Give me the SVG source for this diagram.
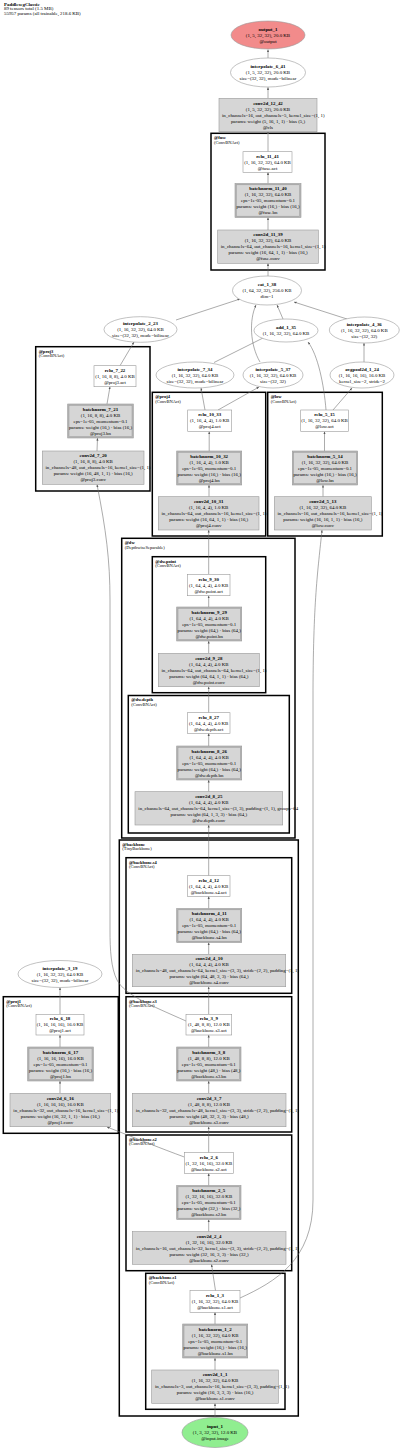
<svg xmlns="http://www.w3.org/2000/svg" width="400" height="1450" viewBox="0 0 400 1450">
<defs>
<marker id="ah" viewBox="0 0 10 10" refX="10" refY="5" markerWidth="2.6" markerHeight="2.6" markerUnits="userSpaceOnUse" orient="auto"><path d="M0,1 L10,5 L0,9 z" fill="#555"/></marker>
</defs>
<style>
text{font-family:"Liberation Serif","Times New Roman",serif;font-size:4.9px;fill:#000}
.t{text-anchor:middle}
.s{text-anchor:start}
.b{font-weight:bold}
.cl{fill:#fff;stroke:#000;stroke-width:1.5}
.ct{font-size:4.5px}
.g{fill:#d6d6d6;stroke:#999;stroke-width:0.6}
.w{fill:#fff;stroke:#999;stroke-width:0.6}
.bo{fill:#b5b5b5;stroke:#999;stroke-width:0.6}
.bi{fill:#d6d6d6;stroke:#999;stroke-width:0.5}
.el{fill:#fff;stroke:#999;stroke-width:0.6}
.e{fill:none;stroke:#666;stroke-width:0.55;marker-end:url(#ah)}
</style>
<rect x="0" y="0" width="400" height="1450" fill="#fff"/>
<g id="title">
<text class="s" x="4" y="5.5"><tspan class="b">PaddlesegClassic</tspan><tspan x="4" dy="4.7">89 tensors total (1.5 MB)</tspan><tspan x="4" dy="4.7">55957 params (all trainable, 218.6 KB)</tspan></text>
</g>
<g id="clusters">
<rect class="cl" x="211" y="133.3" width="114" height="136.7"/>
<text class="s ct" x="214" y="139.2"><tspan class="b">@fuse</tspan><tspan x="214" dy="4.3">(ConvBNAct)</tspan></text>
<rect class="cl" x="35.7" y="346.7" width="114.3" height="144.3"/>
<text class="s ct" x="38.7" y="352.6"><tspan class="b">@proj3</tspan><tspan x="38.7" dy="4.3">(ConvBNAct)</tspan></text>
<rect class="cl" x="152.3" y="392.3" width="113.4" height="143.7"/>
<text class="s ct" x="155.3" y="398.2"><tspan class="b">@proj4</tspan><tspan x="155.3" dy="4.3">(ConvBNAct)</tspan></text>
<rect class="cl" x="267.7" y="392.3" width="114.6" height="143.7"/>
<text class="s ct" x="270.7" y="398.2"><tspan class="b">@low</tspan><tspan x="270.7" dy="4.3">(ConvBNAct)</tspan></text>
<rect class="cl" x="121.7" y="538.3" width="173.3" height="299.7"/>
<text class="s ct" x="124.7" y="544.2"><tspan class="b">@dw</tspan><tspan x="124.7" dy="4.3">(DepthwiseSeparable)</tspan></text>
<rect class="cl" x="152.3" y="556.7" width="113.4" height="136"/>
<text class="s ct" x="155.3" y="562.6"><tspan class="b">@dw.point</tspan><tspan x="155.3" dy="4.3">(ConvBNAct)</tspan></text>
<rect class="cl" x="128.3" y="695.5" width="161" height="137.5"/>
<text class="s ct" x="131.3" y="701.4"><tspan class="b">@dw.depth</tspan><tspan x="131.3" dy="4.3">(ConvBNAct)</tspan></text>
<rect class="cl" x="119.3" y="840" width="179" height="576"/>
<text class="s ct" x="122.3" y="845.9"><tspan class="b">@backbone</tspan><tspan x="122.3" dy="4.3">(TinyBackbone)</tspan></text>
<rect class="cl" x="126" y="857.7" width="165.7" height="135.6"/>
<text class="s ct" x="129" y="863.6"><tspan class="b">@backbone.s4</tspan><tspan x="129" dy="4.3">(ConvBNAct)</tspan></text>
<rect class="cl" x="126" y="996.7" width="165.7" height="135.3"/>
<text class="s ct" x="129" y="1002.6"><tspan class="b">@backbone.s3</tspan><tspan x="129" dy="4.3">(ConvBNAct)</tspan></text>
<rect class="cl" x="126" y="1135" width="165.7" height="135.7"/>
<text class="s ct" x="129" y="1140.9"><tspan class="b">@backbone.s2</tspan><tspan x="129" dy="4.3">(ConvBNAct)</tspan></text>
<rect class="cl" x="145.7" y="1273.3" width="139.3" height="136"/>
<text class="s ct" x="148.7" y="1279.2"><tspan class="b">@backbone.s1</tspan><tspan x="148.7" dy="4.3">(ConvBNAct)</tspan></text>
<rect class="cl" x="3.3" y="996.7" width="115" height="136.6"/>
<text class="s ct" x="6.3" y="1002.6"><tspan class="b">@proj1</tspan><tspan x="6.3" dy="4.3">(ConvBNAct)</tspan></text>
</g>
<g id="edges">
<path class="e" d="M268,58 L268,49.5"/>
<path class="e" d="M268,98.3 L268,87.3"/>
<path class="e" d="M268,151.7 L268,131.7"/>
<path class="e" d="M268,183.5 L268,172.3"/>
<path class="e" d="M268,230 L268,217.5"/>
<path class="e" d="M268,276 L268,263.3"/>
<path class="e" d="M176,320 L240,299"/>
<path class="e" d="M260,362 C250,345 249,320 256,305"/>
<path class="e" d="M283,319 L277,305"/>
<path class="e" d="M347,319 L294,302"/>
<path class="e" d="M120,365.7 L134,342"/>
<path class="e" d="M107,404 L110,386.7"/>
<path class="e" d="M97,451 L97.5,438"/>
<path class="e" d="M186,1021 C150,1005 125,995 117,980 C111,968 110,950 110,930 L110,600 C110,560 106,530 97,484.5"/>
<path class="e" d="M205,410 L201,388"/>
<path class="e" d="M218,410 L259,387"/>
<path class="e" d="M209.2,451 L209.2,431.5"/>
<path class="e" d="M209,496.7 L209,485"/>
<path class="e" d="M208.7,574.3 L208.7,530"/>
<path class="e" d="M326,410 C324,385 318,355 308,342"/>
<path class="e" d="M333,410 L352,388"/>
<path class="e" d="M324.5,451 L324.5,431.5"/>
<path class="e" d="M323,496.7 L323,485"/>
<path class="e" d="M240,1298 C275,1282 313,1260 313,1200 L313,700 C313,600 318,570 322,530"/>
<path class="e" d="M214,362.5 L265,337"/>
<path class="e" d="M364,362 L364,343"/>
<path class="e" d="M208.7,875.7 L208.7,825"/>
<path class="e" d="M208.7,791.7 L208.7,780"/>
<path class="e" d="M208.7,746 L208.7,733.3"/>
<path class="e" d="M208.7,712.7 L208.7,686.7"/>
<path class="e" d="M208.7,653.3 L208.7,641"/>
<path class="e" d="M208.7,607 L208.7,595.7"/>
<path class="e" d="M208.7,908.5 L208.7,896.3"/>
<path class="e" d="M208.7,954.3 L208.7,942.5"/>
<path class="e" d="M208.7,1014.3 L208.7,986.7"/>
<path class="e" d="M208.7,1047 L208.7,1035"/>
<path class="e" d="M208.7,1093.3 L208.7,1081"/>
<path class="e" d="M208.7,1152.7 L208.7,1126.7"/>
<path class="e" d="M208.7,1185.5 L208.7,1173.3"/>
<path class="e" d="M208.7,1231.7 L208.7,1219.5"/>
<path class="e" d="M215.5,1290.7 L211.5,1264.3"/>
<path class="e" d="M215,1324 L215,1312.3"/>
<path class="e" d="M215,1370 L215,1358"/>
<path class="e" d="M215,1417.5 L215,1403.3"/>
<path class="e" d="M184.3,1157 C160,1148 140,1140 125,1134 L107,1127"/>
<path class="e" d="M60,1014.3 L60,987.5"/>
<path class="e" d="M60,1047 L60,1035"/>
<path class="e" d="M60,1093.3 L60,1081"/>
</g>
<g id="output_1">
<ellipse cx="268" cy="35" rx="37" ry="14" fill="#f28b8b" stroke="#999" stroke-width="0.6"/>
<text class="t" x="268" y="30.6"><tspan class="b">output_1</tspan><tspan x="268" dy="6">(1, 5, 32, 32), 20.0 KB</tspan><tspan x="268" dy="6">@output</tspan></text>
</g>
<g id="interpolate_6_41">
<ellipse class="el" cx="268" cy="72.5" rx="37.5" ry="14.5"/>
<text class="t" x="268" y="68.1"><tspan class="b">interpolate_6_41</tspan><tspan x="268" dy="6">(1, 5, 32, 32), 20.0 KB</tspan><tspan x="268" dy="6">size=(32, 32), mode=bilinear</tspan></text>
</g>
<g id="conv2d_12_42">
<rect class="g" x="219" y="98.3" width="98" height="33.4"/>
<text class="t" x="268" y="104.6"><tspan class="b">conv2d_12_42</tspan><tspan x="268" dy="6">(1, 5, 32, 32), 20.0 KB</tspan></text>
<text class="s" x="222" y="116.6">in_channels=16, out_channels=5, kernel_size=(1, 1)</text>
<text class="t" x="268" y="122.6">params: weight (5, 16, 1, 1) · bias (5,)<tspan x="268" dy="6">@cls</tspan></text>
</g>
<g id="relu_11_41">
<rect class="w" x="243" y="151.7" width="49" height="20.6"/>
<text class="t" x="267.5" y="157.6"><tspan class="b">relu_11_41</tspan><tspan x="267.5" dy="6">(1, 16, 32, 32), 64.0 KB</tspan><tspan x="267.5" dy="6">@fuse.act</tspan></text>
</g>
<g id="batchnorm_11_40">
<rect class="bo" x="235" y="183.5" width="66" height="34"/>
<rect class="bi" x="236.3" y="184.8" width="63.4" height="31.4"/>
<text class="t" x="268" y="190.1"><tspan class="b">batchnorm_11_40</tspan><tspan x="268" dy="6">(1, 16, 32, 32), 64.0 KB</tspan><tspan x="268" dy="6">eps=1e-05, momentum=0.1</tspan><tspan x="268" dy="6">params: weight (16,) · bias (16,)</tspan><tspan x="268" dy="6">@fuse.bn</tspan></text>
</g>
<g id="conv2d_11_39">
<rect class="g" x="217.7" y="230" width="100.6" height="33.3"/>
<text class="t" x="268" y="236.25"><tspan class="b">conv2d_11_39</tspan><tspan x="268" dy="6">(1, 16, 32, 32), 64.0 KB</tspan></text>
<text class="s" x="220.7" y="248.25">in_channels=64, out_channels=16, kernel_size=(1, 1)</text>
<text class="t" x="268" y="254.25">params: weight (16, 64, 1, 1) · bias (16,)<tspan x="268" dy="6">@fuse.conv</tspan></text>
</g>
<g id="cat_1_38">
<ellipse class="el" cx="267" cy="290.5" rx="34.5" ry="14.5"/>
<text class="t" x="267" y="286.1"><tspan class="b">cat_1_38</tspan><tspan x="267" dy="6">(1, 64, 32, 32), 256.0 KB</tspan><tspan x="267" dy="6">dim=1</tspan></text>
</g>
<g id="interpolate_2_23">
<ellipse class="el" cx="140.5" cy="329.5" rx="36.5" ry="12.8"/>
<text class="t" x="140.5" y="325.1"><tspan class="b">interpolate_2_23</tspan><tspan x="140.5" dy="6">(1, 16, 32, 32), 64.0 KB</tspan><tspan x="140.5" dy="6">size=(32, 32), mode=bilinear</tspan></text>
</g>
<g id="add_1_35">
<ellipse class="el" cx="286" cy="330.5" rx="32" ry="11.5"/>
<text class="t" x="286" y="329.1"><tspan class="b">add_1_35</tspan><tspan x="286" dy="6">(1, 16, 32, 32), 64.0 KB</tspan></text>
</g>
<g id="interpolate_4_36">
<ellipse class="el" cx="364.3" cy="330" rx="35" ry="13"/>
<text class="t" x="364.3" y="325.6"><tspan class="b">interpolate_4_36</tspan><tspan x="364.3" dy="6">(1, 16, 32, 32), 64.0 KB</tspan><tspan x="364.3" dy="6">size=(32, 32)</tspan></text>
</g>
<g id="interpolate_7_34">
<ellipse class="el" cx="195" cy="375" rx="39" ry="13"/>
<text class="t" x="195" y="370.6"><tspan class="b">interpolate_7_34</tspan><tspan x="195" dy="6">(1, 16, 32, 32), 64.0 KB</tspan><tspan x="195" dy="6">size=(32, 32), mode=bilinear</tspan></text>
</g>
<g id="interpolate_5_37">
<ellipse class="el" cx="273" cy="375" rx="30" ry="13"/>
<text class="t" x="273" y="370.6"><tspan class="b">interpolate_5_37</tspan><tspan x="273" dy="6">(1, 16, 32, 32), 64.0 KB</tspan><tspan x="273" dy="6">size=(32, 32)</tspan></text>
</g>
<g id="avgpool2d_1_24">
<ellipse class="el" cx="362" cy="375" rx="32" ry="13"/>
<text class="t" x="362" y="370.6"><tspan class="b">avgpool2d_1_24</tspan><tspan x="362" dy="6">(1, 16, 16, 16), 16.0 KB</tspan><tspan x="362" dy="6">kernel_size=2, stride=2</tspan></text>
</g>
<g id="relu_7_22">
<rect class="w" x="94" y="365.7" width="42" height="21"/>
<text class="t" x="115" y="371.8"><tspan class="b">relu_7_22</tspan><tspan x="115" dy="6">(1, 16, 8, 8), 4.0 KB</tspan><tspan x="115" dy="6">@proj3.act</tspan></text>
</g>
<g id="batchnorm_7_21">
<rect class="bo" x="67.7" y="404" width="65.6" height="34"/>
<rect class="bi" x="69" y="405.3" width="63" height="31.4"/>
<text class="t" x="100.5" y="410.6"><tspan class="b">batchnorm_7_21</tspan><tspan x="100.5" dy="6">(1, 16, 8, 8), 4.0 KB</tspan><tspan x="100.5" dy="6">eps=1e-05, momentum=0.1</tspan><tspan x="100.5" dy="6">params: weight (16,) · bias (16,)</tspan><tspan x="100.5" dy="6">@proj3.bn</tspan></text>
</g>
<g id="conv2d_7_20">
<rect class="g" x="42.3" y="451" width="101.7" height="33.3"/>
<text class="t" x="93.2" y="457.25"><tspan class="b">conv2d_7_20</tspan><tspan x="93.2" dy="6">(1, 16, 8, 8), 4.0 KB</tspan></text>
<text class="s" x="45.5" y="469.25">in_channels=48, out_channels=16, kernel_size=(1, 1)</text>
<text class="t" x="93.2" y="475.25">params: weight (16, 48, 1, 1) · bias (16,)<tspan x="93.2" dy="6">@proj3.conv</tspan></text>
</g>
<g id="relu_10_33">
<rect class="w" x="187.7" y="410" width="44" height="21.5"/>
<text class="t" x="209.7" y="416.35"><tspan class="b">relu_10_33</tspan><tspan x="209.7" dy="6">(1, 16, 4, 4), 1.0 KB</tspan><tspan x="209.7" dy="6">@proj4.act</tspan></text>
</g>
<g id="batchnorm_10_32">
<rect class="bo" x="176.7" y="451" width="65" height="34"/>
<rect class="bi" x="178" y="452.3" width="62.4" height="31.4"/>
<text class="t" x="209.2" y="457.6"><tspan class="b">batchnorm_10_32</tspan><tspan x="209.2" dy="6">(1, 16, 4, 4), 1.0 KB</tspan><tspan x="209.2" dy="6">eps=1e-05, momentum=0.1</tspan><tspan x="209.2" dy="6">params: weight (16,) · bias (16,)</tspan><tspan x="209.2" dy="6">@proj4.bn</tspan></text>
</g>
<g id="conv2d_10_31">
<rect class="g" x="158.3" y="496.7" width="100.7" height="33.3"/>
<text class="t" x="208.7" y="502.95"><tspan class="b">conv2d_10_31</tspan><tspan x="208.7" dy="6">(1, 16, 4, 4), 1.0 KB</tspan></text>
<text class="s" x="161.5" y="514.95">in_channels=64, out_channels=16, kernel_size=(1, 1)</text>
<text class="t" x="208.7" y="520.95">params: weight (16, 64, 1, 1) · bias (16,)<tspan x="208.7" dy="6">@proj4.conv</tspan></text>
</g>
<g id="relu_5_15">
<rect class="w" x="300.7" y="410" width="47.6" height="21.5"/>
<text class="t" x="324.5" y="416.35"><tspan class="b">relu_5_15</tspan><tspan x="324.5" dy="6">(1, 16, 32, 32), 64.0 KB</tspan><tspan x="324.5" dy="6">@low.act</tspan></text>
</g>
<g id="batchnorm_5_14">
<rect class="bo" x="292.3" y="451" width="65.4" height="34"/>
<rect class="bi" x="293.6" y="452.3" width="62.8" height="31.4"/>
<text class="t" x="325" y="457.6"><tspan class="b">batchnorm_5_14</tspan><tspan x="325" dy="6">(1, 16, 32, 32), 64.0 KB</tspan><tspan x="325" dy="6">eps=1e-05, momentum=0.1</tspan><tspan x="325" dy="6">params: weight (16,) · bias (16,)</tspan><tspan x="325" dy="6">@low.bn</tspan></text>
</g>
<g id="conv2d_5_13">
<rect class="g" x="274.3" y="496.7" width="97" height="33.3"/>
<text class="t" x="322.8" y="502.95"><tspan class="b">conv2d_5_13</tspan><tspan x="322.8" dy="6">(1, 16, 32, 32), 64.0 KB</tspan></text>
<text class="s" x="277.5" y="514.95">in_channels=16, out_channels=16, kernel_size=(1, 1)</text>
<text class="t" x="322.8" y="520.95">params: weight (16, 16, 1, 1) · bias (16,)<tspan x="322.8" dy="6">@low.conv</tspan></text>
</g>
<g id="relu_9_30">
<rect class="w" x="187.3" y="574.3" width="42.7" height="21.4"/>
<text class="t" x="208.7" y="580.6"><tspan class="b">relu_9_30</tspan><tspan x="208.7" dy="6">(1, 64, 4, 4), 4.0 KB</tspan><tspan x="208.7" dy="6">@dw.point.act</tspan></text>
</g>
<g id="batchnorm_9_29">
<rect class="bo" x="176.7" y="607" width="65" height="34"/>
<rect class="bi" x="178" y="608.3" width="62.4" height="31.4"/>
<text class="t" x="209.2" y="613.6"><tspan class="b">batchnorm_9_29</tspan><tspan x="209.2" dy="6">(1, 64, 4, 4), 4.0 KB</tspan><tspan x="209.2" dy="6">eps=1e-05, momentum=0.1</tspan><tspan x="209.2" dy="6">params: weight (64,) · bias (64,)</tspan><tspan x="209.2" dy="6">@dw.point.bn</tspan></text>
</g>
<g id="conv2d_9_28">
<rect class="g" x="158.3" y="653.3" width="101" height="33.4"/>
<text class="t" x="208.8" y="659.6"><tspan class="b">conv2d_9_28</tspan><tspan x="208.8" dy="6">(1, 64, 4, 4), 4.0 KB</tspan></text>
<text class="s" x="161.5" y="671.6">in_channels=64, out_channels=64, kernel_size=(1, 1)</text>
<text class="t" x="208.8" y="677.6">params: weight (64, 64, 1, 1) · bias (64,)<tspan x="208.8" dy="6">@dw.point.conv</tspan></text>
</g>
<g id="relu_8_27">
<rect class="w" x="187.3" y="712.7" width="42.7" height="20.6"/>
<text class="t" x="208.7" y="718.6"><tspan class="b">relu_8_27</tspan><tspan x="208.7" dy="6">(1, 64, 4, 4), 4.0 KB</tspan><tspan x="208.7" dy="6">@dw.depth.act</tspan></text>
</g>
<g id="batchnorm_8_26">
<rect class="bo" x="176.7" y="746" width="65" height="34"/>
<rect class="bi" x="178" y="747.3" width="62.4" height="31.4"/>
<text class="t" x="209.2" y="752.6"><tspan class="b">batchnorm_8_26</tspan><tspan x="209.2" dy="6">(1, 64, 4, 4), 4.0 KB</tspan><tspan x="209.2" dy="6">eps=1e-05, momentum=0.1</tspan><tspan x="209.2" dy="6">params: weight (64,) · bias (64,)</tspan><tspan x="209.2" dy="6">@dw.depth.bn</tspan></text>
</g>
<g id="conv2d_8_25">
<rect class="g" x="135" y="791.7" width="147.7" height="33.3"/>
<text class="t" x="208.8" y="797.95"><tspan class="b">conv2d_8_25</tspan><tspan x="208.8" dy="6">(1, 64, 4, 4), 4.0 KB</tspan></text>
<text class="s" x="138.3" y="809.95">in_channels=64, out_channels=64, kernel_size=(3, 3), padding=(1, 1), groups=64</text>
<text class="t" x="208.8" y="815.95">params: weight (64, 1, 3, 3) · bias (64,)<tspan x="208.8" dy="6">@dw.depth.conv</tspan></text>
</g>
<g id="relu_4_12">
<rect class="w" x="187.3" y="875.7" width="42.7" height="20.6"/>
<text class="t" x="208.7" y="881.6"><tspan class="b">relu_4_12</tspan><tspan x="208.7" dy="6">(1, 64, 4, 4), 4.0 KB</tspan><tspan x="208.7" dy="6">@backbone.s4.act</tspan></text>
</g>
<g id="batchnorm_4_11">
<rect class="bo" x="176.7" y="908.5" width="65" height="34"/>
<rect class="bi" x="178" y="909.8" width="62.4" height="31.4"/>
<text class="t" x="209.2" y="915.1"><tspan class="b">batchnorm_4_11</tspan><tspan x="209.2" dy="6">(1, 64, 4, 4), 4.0 KB</tspan><tspan x="209.2" dy="6">eps=1e-05, momentum=0.1</tspan><tspan x="209.2" dy="6">params: weight (64,) · bias (64,)</tspan><tspan x="209.2" dy="6">@backbone.s4.bn</tspan></text>
</g>
<g id="conv2d_4_10">
<rect class="g" x="132.3" y="954.3" width="153.4" height="32.4"/>
<text class="t" x="209" y="960.1"><tspan class="b">conv2d_4_10</tspan><tspan x="209" dy="6">(1, 64, 4, 4), 4.0 KB</tspan></text>
<text class="s" x="135.8" y="972.1">in_channels=48, out_channels=64, kernel_size=(3, 3), stride=(2, 2), padding=(1, 1)</text>
<text class="t" x="209" y="978.1">params: weight (64, 48, 3, 3) · bias (64,)<tspan x="209" dy="6">@backbone.s4.conv</tspan></text>
</g>
<g id="relu_3_9">
<rect class="w" x="186" y="1014.3" width="45.7" height="20.7"/>
<text class="t" x="208.8" y="1020.25"><tspan class="b">relu_3_9</tspan><tspan x="208.8" dy="6">(1, 48, 8, 8), 12.0 KB</tspan><tspan x="208.8" dy="6">@backbone.s3.act</tspan></text>
</g>
<g id="batchnorm_3_8">
<rect class="bo" x="176.7" y="1047" width="64.3" height="34"/>
<rect class="bi" x="178" y="1048.3" width="61.7" height="31.4"/>
<text class="t" x="208.8" y="1053.6"><tspan class="b">batchnorm_3_8</tspan><tspan x="208.8" dy="6">(1, 48, 8, 8), 12.0 KB</tspan><tspan x="208.8" dy="6">eps=1e-05, momentum=0.1</tspan><tspan x="208.8" dy="6">params: weight (48,) · bias (48,)</tspan><tspan x="208.8" dy="6">@backbone.s3.bn</tspan></text>
</g>
<g id="conv2d_3_7">
<rect class="g" x="132.3" y="1093.3" width="153.7" height="33.4"/>
<text class="t" x="209" y="1099.6"><tspan class="b">conv2d_3_7</tspan><tspan x="209" dy="6">(1, 48, 8, 8), 12.0 KB</tspan></text>
<text class="s" x="135.8" y="1111.6">in_channels=32, out_channels=48, kernel_size=(3, 3), stride=(2, 2), padding=(1, 1)</text>
<text class="t" x="209" y="1117.6">params: weight (48, 32, 3, 3) · bias (48,)<tspan x="209" dy="6">@backbone.s3.conv</tspan></text>
</g>
<g id="relu_2_6">
<rect class="w" x="184.3" y="1152.7" width="49" height="20.6"/>
<text class="t" x="208.8" y="1158.6"><tspan class="b">relu_2_6</tspan><tspan x="208.8" dy="6">(1, 32, 16, 16), 32.0 KB</tspan><tspan x="208.8" dy="6">@backbone.s2.act</tspan></text>
</g>
<g id="batchnorm_2_5">
<rect class="bo" x="176.7" y="1185.5" width="64.3" height="34"/>
<rect class="bi" x="178" y="1186.8" width="61.7" height="31.4"/>
<text class="t" x="208.8" y="1192.1"><tspan class="b">batchnorm_2_5</tspan><tspan x="208.8" dy="6">(1, 32, 16, 16), 32.0 KB</tspan><tspan x="208.8" dy="6">eps=1e-05, momentum=0.1</tspan><tspan x="208.8" dy="6">params: weight (32,) · bias (32,)</tspan><tspan x="208.8" dy="6">@backbone.s2.bn</tspan></text>
</g>
<g id="conv2d_2_4">
<rect class="g" x="132.3" y="1231.7" width="153.7" height="32.6"/>
<text class="t" x="209" y="1237.6"><tspan class="b">conv2d_2_4</tspan><tspan x="209" dy="6">(1, 32, 16, 16), 32.0 KB</tspan></text>
<text class="s" x="135.8" y="1249.6">in_channels=16, out_channels=32, kernel_size=(3, 3), stride=(2, 2), padding=(1, 1)</text>
<text class="t" x="209" y="1255.6">params: weight (32, 16, 3, 3) · bias (32,)<tspan x="209" dy="6">@backbone.s2.conv</tspan></text>
</g>
<g id="relu_1_3">
<rect class="w" x="190" y="1290.7" width="50" height="21.6"/>
<text class="t" x="215" y="1297.1"><tspan class="b">relu_1_3</tspan><tspan x="215" dy="6">(1, 16, 32, 32), 64.0 KB</tspan><tspan x="215" dy="6">@backbone.s1.act</tspan></text>
</g>
<g id="batchnorm_1_2">
<rect class="bo" x="182.7" y="1324" width="65" height="34"/>
<rect class="bi" x="184" y="1325.3" width="62.4" height="31.4"/>
<text class="t" x="215.2" y="1330.6"><tspan class="b">batchnorm_1_2</tspan><tspan x="215.2" dy="6">(1, 16, 32, 32), 64.0 KB</tspan><tspan x="215.2" dy="6">eps=1e-05, momentum=0.1</tspan><tspan x="215.2" dy="6">params: weight (16,) · bias (16,)</tspan><tspan x="215.2" dy="6">@backbone.s1.bn</tspan></text>
</g>
<g id="conv2d_1_1">
<rect class="g" x="151.7" y="1370" width="126.6" height="33.3"/>
<text class="t" x="215" y="1376.25"><tspan class="b">conv2d_1_1</tspan><tspan x="215" dy="6">(1, 16, 32, 32), 64.0 KB</tspan></text>
<text class="s" x="155" y="1388.25">in_channels=3, out_channels=16, kernel_size=(3, 3), padding=(1, 1)</text>
<text class="t" x="215" y="1394.25">params: weight (16, 3, 3, 3) · bias (16,)<tspan x="215" dy="6">@backbone.s1.conv</tspan></text>
</g>
<g id="input_1">
<ellipse cx="215" cy="1432.5" rx="33" ry="15" fill="#90ee90" stroke="#999" stroke-width="0.6"/>
<text class="t" x="215" y="1428.1"><tspan class="b">input_1</tspan><tspan x="215" dy="6">(1, 3, 32, 32), 12.0 KB</tspan><tspan x="215" dy="6">@input.image</tspan></text>
</g>
<g id="interpolate_3_19">
<ellipse class="el" cx="60" cy="974" rx="42" ry="13.5"/>
<text class="t" x="60" y="969.6"><tspan class="b">interpolate_3_19</tspan><tspan x="60" dy="6">(1, 16, 32, 32), 64.0 KB</tspan><tspan x="60" dy="6">size=(32, 32), mode=bilinear</tspan></text>
</g>
<g id="relu_6_18">
<rect class="w" x="36" y="1014.3" width="48" height="20.7"/>
<text class="t" x="60" y="1020.25"><tspan class="b">relu_6_18</tspan><tspan x="60" dy="6">(1, 16, 16, 16), 16.0 KB</tspan><tspan x="60" dy="6">@proj1.act</tspan></text>
</g>
<g id="batchnorm_6_17">
<rect class="bo" x="27.7" y="1047" width="65.6" height="34"/>
<rect class="bi" x="29" y="1048.3" width="63" height="31.4"/>
<text class="t" x="60.5" y="1053.6"><tspan class="b">batchnorm_6_17</tspan><tspan x="60.5" dy="6">(1, 16, 16, 16), 16.0 KB</tspan><tspan x="60.5" dy="6">eps=1e-05, momentum=0.1</tspan><tspan x="60.5" dy="6">params: weight (16,) · bias (16,)</tspan><tspan x="60.5" dy="6">@proj1.bn</tspan></text>
</g>
<g id="conv2d_6_16">
<rect class="g" x="10" y="1093.3" width="100.7" height="33.4"/>
<text class="t" x="60.3" y="1099.6"><tspan class="b">conv2d_6_16</tspan><tspan x="60.3" dy="6">(1, 16, 16, 16), 16.0 KB</tspan></text>
<text class="s" x="13.3" y="1111.6">in_channels=32, out_channels=16, kernel_size=(1, 1)</text>
<text class="t" x="60.3" y="1117.6">params: weight (16, 32, 1, 1) · bias (16,)<tspan x="60.3" dy="6">@proj1.conv</tspan></text>
</g>
</svg>
